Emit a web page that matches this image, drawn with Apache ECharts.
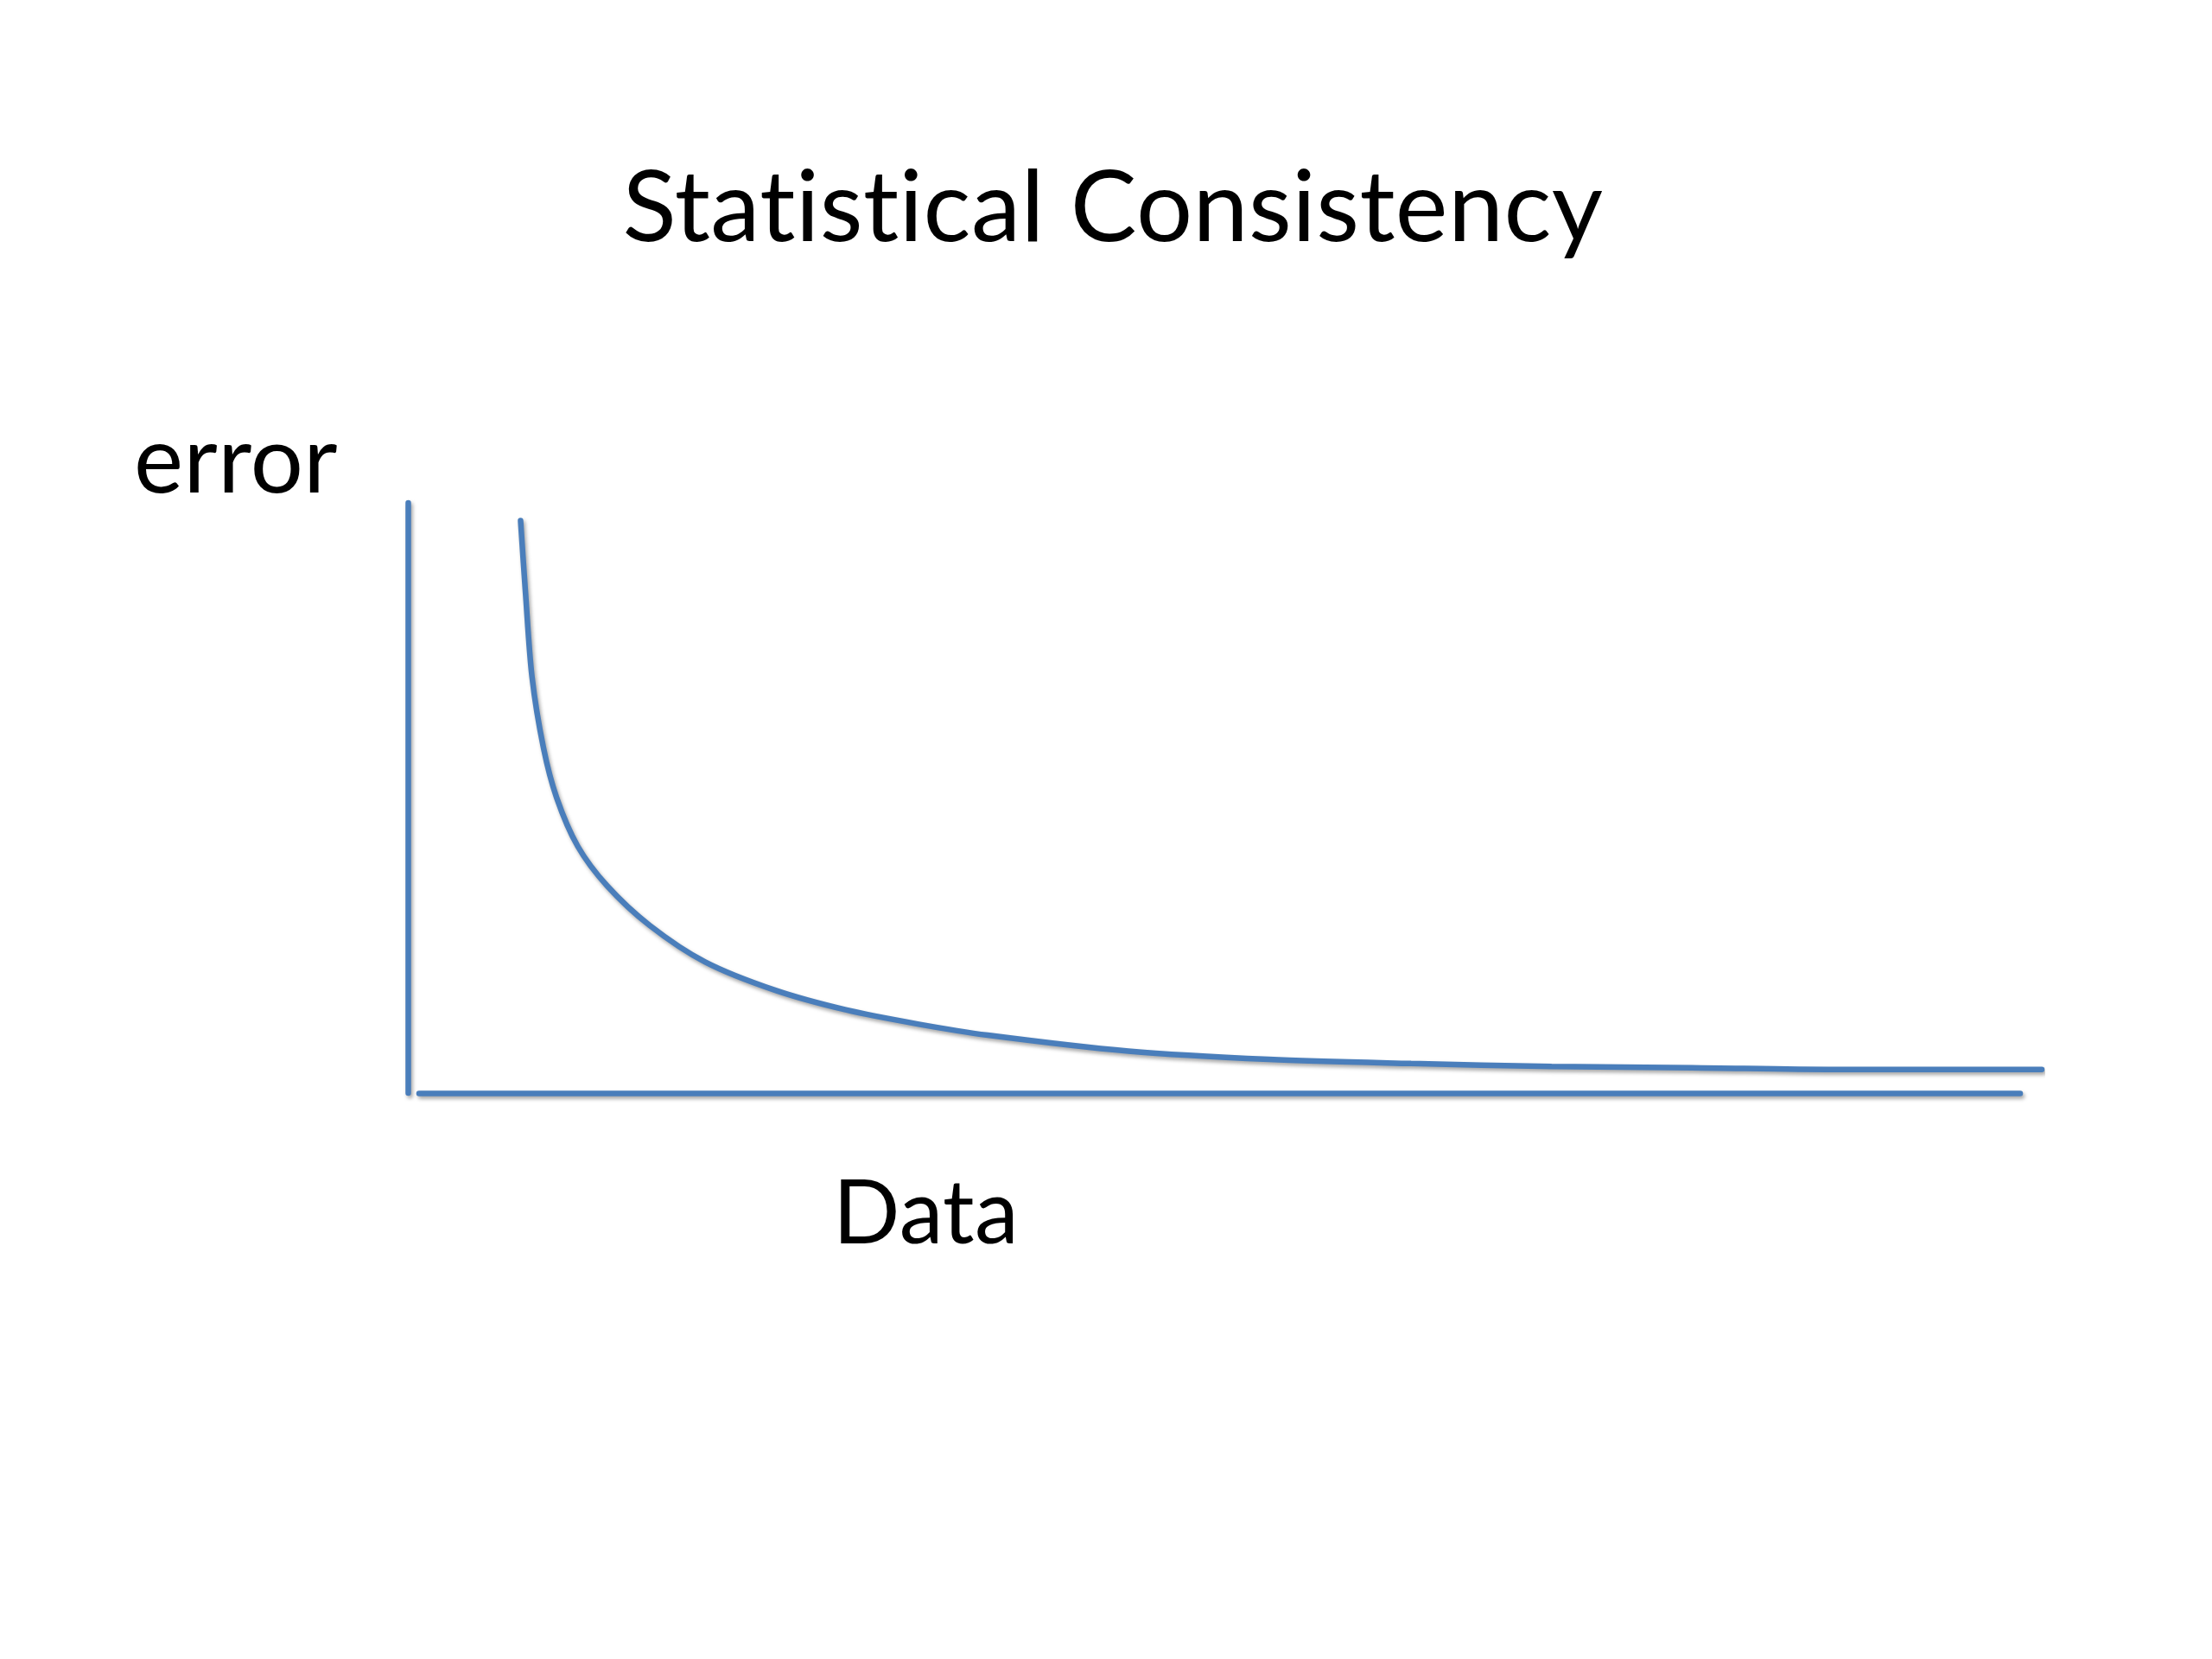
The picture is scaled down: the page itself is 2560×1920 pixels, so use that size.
<!DOCTYPE html>
<html>
<head>
<meta charset="utf-8">
<script src="https://cdn.jsdelivr.net/npm/echarts@6/dist/echarts.min.js"></script>
<style>
html,body{margin:0;padding:0;background:#fff;}
#chart{width:2560px;height:1920px;}
</style>
</head>
<body>
<div id="chart"></div>
<script>
// Data (x: amount of data, y: error)
const dataX = [6.9, 7.2, 7.6, 8.3, 9.1, 10.4, 12.2, 14.8, 18.2, 22.5, 26.8, 31.2, 35.5, 44.1, 52.7, 61.4, 70.0, 78.6, 87.3, 100];
const errorY = [97.0, 84.8, 70.5, 58.5, 50.1, 41.8, 35.1, 28.4, 22.2, 17.4, 14.1, 11.7, 9.8, 7.1, 5.7, 5.0, 4.5, 4.3, 4.0, 4.0];
const titleText = 'Statistical Consistency';
const yLabel = 'error';
const xLabel = 'Data';

// draw text without typographic ligatures (the reference shows plain "ti")
(function () {
  const proto = CanvasRenderingContext2D.prototype;
  const origFill = proto.fillText;
  proto.fillText = function () {
    try { this.textRendering = 'optimizeSpeed'; } catch (e) {}
    try { this.letterSpacing = '0.4px'; } catch (e) {}
    return origFill.apply(this, arguments);
  };
})();

const BLUE = '#4a7ebb';
const FONT = 'Lato, "Open Sans", sans-serif';
const shadow = {shadowColor: 'rgba(0,0,0,0.35)', shadowBlur: 4, shadowOffsetX: 2, shadowOffsetY: 3};
const LW = 6.5;

const chart = echarts.init(document.getElementById('chart'), null, {renderer: 'canvas'});
const hidden = {show: false};
chart.setOption({
  backgroundColor: '#ffffff',
  animation: false,
  grid: [
    {left: 472, top: 582, width: 1891, height: 683},
    {left: 485, top: 582, width: 1853, height: 683}
  ],
  xAxis: [
    {type: 'value', gridIndex: 0, min: 0, max: 100, axisLine: hidden, axisTick: hidden, axisLabel: hidden, splitLine: hidden},
    {type: 'value', gridIndex: 1, min: 0, max: 100,
     axisLine: {show: true, lineStyle: Object.assign({color: BLUE, width: LW, cap: 'round'}, shadow)},
     axisTick: hidden, axisLabel: hidden, splitLine: hidden}
  ],
  yAxis: [
    {type: 'value', gridIndex: 0, min: 0, max: 100,
     axisLine: {show: true, lineStyle: Object.assign({color: BLUE, width: LW, cap: 'round'}, shadow)},
     axisTick: hidden, axisLabel: hidden, splitLine: hidden},
    {type: 'value', gridIndex: 1, min: 0, max: 100, axisLine: hidden, axisTick: hidden, axisLabel: hidden, splitLine: hidden}
  ],
  series: [{
    type: 'line',
    xAxisIndex: 0, yAxisIndex: 0,
    data: dataX.map((x, i) => [x, errorY[i]]),
    smooth: 0.3,
    showSymbol: false,
    clip: false,
    lineStyle: Object.assign({color: BLUE, width: LW, cap: 'round'}, shadow)
  }],
  graphic: [
    {type: 'text', x: 1288, y: 242, silent: true,
     style: {text: titleText, font: '115px ' + FONT, fill: '#000', align: 'center', verticalAlign: 'middle'}},
    {type: 'text', x: 155, y: 535, silent: true,
     style: {text: yLabel, font: '108px ' + FONT, fill: '#000', align: 'left', verticalAlign: 'middle'}},
    {type: 'text', x: 964, y: 1406, silent: true,
     style: {text: xLabel, font: '102px ' + FONT, fill: '#000', align: 'left', verticalAlign: 'middle'}}
  ]
});
</script>
</body>
</html>
